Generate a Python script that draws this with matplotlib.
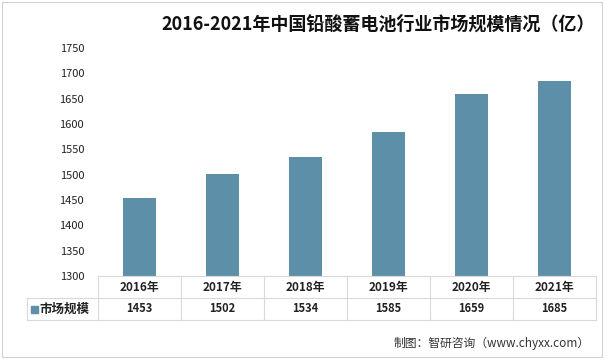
import matplotlib.pyplot as plt
from matplotlib.patches import Rectangle
from matplotlib.lines import Line2D

plt.rcParams['font.family'] = ['Noto Sans CJK SC', 'DejaVu Sans']

years = ['2016年', '2017年', '2018年', '2019年', '2020年', '2021年']
values = [1453, 1502, 1534, 1585, 1659, 1685]
yticks = [1300, 1350, 1400, 1450, 1500, 1550, 1600, 1650, 1700, 1750]
series_name = '市场规模'
title = '2016-2021年中国铅酸蓄电池行业市场规模情况（亿）'
source = '制图：智研咨询（www.chyxx.com）'

bar_color = '#5d90a8'
grid_color = '#d9d9d9'

fig = plt.figure(figsize=(6.07, 3.59), dpi=100)
ax = fig.add_axes([98/607, 83/359, 498/607, 228/359])

x = range(len(years))
ax.bar(x, values, width=0.40, color=bar_color, zorder=2)
ax.set_xlim(-0.5, len(years) - 0.5)
ax.set_ylim(1300, 1750)
ax.set_yticks(yticks)
ax.set_yticklabels([str(v) for v in yticks], fontsize=8, color='#222222')
ax.tick_params(axis='y', length=0, pad=10)
ax.set_xticks([])
for s in ax.spines.values():
    s.set_visible(False)

# data table below the plot
row1 = -22/228
row2 = -44/228
left = -71/498
tr = ax.transAxes
lines = [
    ([0, 1], [0, 0]),
    ([left, 1], [row1, row1]),
    ([left, 1], [row2, row2]),
    ([left, left], [row1, row2]),
    ([0, 0], [0, row2]),
]
for i in range(1, len(years) + 1):
    lines.append(([i/len(years), i/len(years)], [0, row2]))
for xs, ys in lines:
    ax.add_line(Line2D(xs, ys, transform=tr, color=grid_color, lw=0.8, clip_on=False))

for i, (yr, v) in enumerate(zip(years, values)):
    cx = (i + 0.5) / len(years)
    ax.text(cx, row1/2, yr, transform=tr, ha='center', va='center',
            fontsize=8.5, fontweight='bold', color='#222222')
    ax.text(cx, (row1 + row2)/2, str(v), transform=tr, ha='center', va='center',
            fontsize=8, fontweight='bold', color='#222222')

ax.add_patch(Rectangle((left + 4/498, (row1 + row2)/2 - 3.5/228), 7/498, 7/228,
                       transform=tr, color=bar_color, clip_on=False))
ax.text(left + 12/498, (row1 + row2)/2, series_name, transform=tr, ha='left', va='center',
        fontsize=9, fontweight='bold', color='#222222')

fig.text(378/607, 1 - 24/359, title, ha='center', va='center',
         fontsize=13, fontweight='bold', color='#111111')
fig.text(590/607, 1 - 343/359, source, ha='right', va='center',
         fontsize=8.5, color='#333333')

# outer frame
fig.patches.append(Rectangle((2/607, 2/359), 600/607, 355/359, transform=fig.transFigure,
                             fill=False, edgecolor='#d0d0d0', lw=0.8))

fig.savefig('out.png', dpi=100)
